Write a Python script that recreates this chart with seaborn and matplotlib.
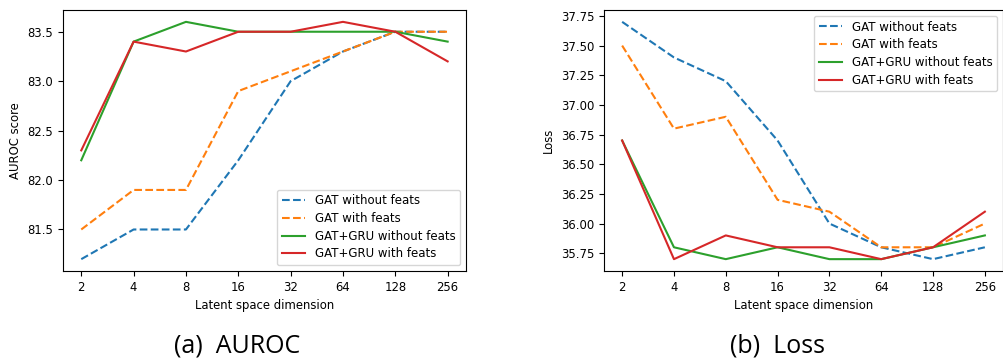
import numpy as np
import pandas as pd

import matplotlib
matplotlib.use("Agg")
import matplotlib.pyplot as plt
import seaborn as sns

# latent space dimensions (categorical x positions)
dims = ["2", "4", "8", "16", "32", "64", "128", "256"]
series_names = ["GAT without feats", "GAT with feats",
                "GAT+GRU without feats", "GAT+GRU with feats"]

# AUROC scores
auroc_gat = [81.2, 81.5, 81.5, 82.2, 83.0, 83.3, 83.5, 83.5]
auroc_gat_feats = [81.5, 81.9, 81.9, 82.9, 83.1, 83.3, 83.5, 83.5]
auroc_gru = [82.2, 83.4, 83.6, 83.5, 83.5, 83.5, 83.5, 83.4]
auroc_gru_feats = [82.3, 83.4, 83.3, 83.5, 83.5, 83.6, 83.5, 83.2]

# Loss values
loss_gat = [37.7, 37.4, 37.2, 36.7, 36.0, 35.8, 35.7, 35.8]
loss_gat_feats = [37.5, 36.8, 36.9, 36.2, 36.1, 35.8, 35.8, 36.0]
loss_gru = [36.7, 35.8, 35.7, 35.8, 35.7, 35.7, 35.8, 35.9]
loss_gru_feats = [36.7, 35.7, 35.9, 35.8, 35.8, 35.7, 35.8, 36.1]


def _long_df(values_list):
    rows = []
    for name, vals in zip(series_names, values_list):
        for i, v in enumerate(vals):
            rows.append({"pos": i, "value": v, "model": name})
    return pd.DataFrame(rows)


auroc_df = _long_df([auroc_gat, auroc_gat_feats, auroc_gru, auroc_gru_feats])
loss_df = _long_df([loss_gat, loss_gat_feats, loss_gru, loss_gru_feats])

palette = dict(zip(series_names, sns.color_palette("tab10", 4)))
dashes = {series_names[0]: (3.7, 1.6), series_names[1]: (3.7, 1.6),
          series_names[2]: "", series_names[3]: ""}

plt.rcParams["font.size"] = 8.4

fig = plt.figure(figsize=(10.04, 3.63), dpi=100)
ax1 = fig.add_axes([0.0627, 0.2534, 0.4014, 0.7191])
ax2 = fig.add_axes([0.6016, 0.2534, 0.3974, 0.7191])


def _draw(ax, df, ylabel, legend_loc):
    sns.lineplot(data=df, x="pos", y="value", hue="model", style="model",
                 palette=palette, dashes=dashes, linewidth=1.5, ax=ax)
    ax.set_xticks(range(len(dims)))
    ax.set_xticklabels(dims)
    ax.set_xlabel("Latent space dimension")
    ax.set_ylabel(ylabel)
    leg = ax.legend(loc=legend_loc, fontsize=8.5, labelspacing=0.4)
    leg.set_title(None)


_draw(ax1, auroc_df, "AUROC score", "lower right")
ax1.set_yticks([81.5, 82.0, 82.5, 83.0, 83.5])

_draw(ax2, loss_df, "Loss", "upper right")
ax2.set_yticks([35.75, 36.0, 36.25, 36.5, 36.75, 37.0, 37.25, 37.5, 37.75])

fig.text(0.2363, 0.047, "(a)  AUROC", ha="center", va="center",
         fontsize=18, family=["Open Sans", "DejaVu Sans"])
fig.text(0.774, 0.047, "(b)  Loss", ha="center", va="center",
         fontsize=18, family=["Open Sans", "DejaVu Sans"])

fig.savefig("out.png", dpi=100)
